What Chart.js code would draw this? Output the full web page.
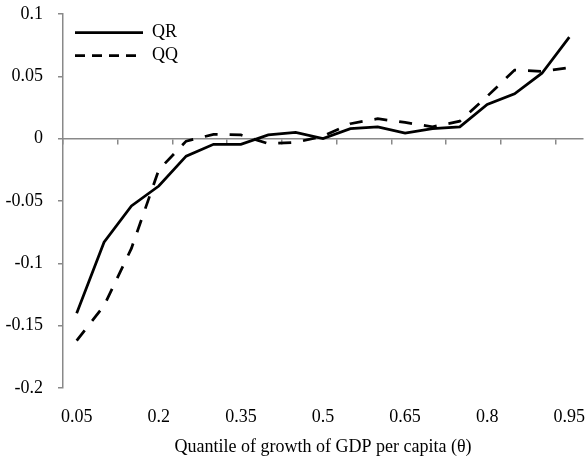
<!DOCTYPE html>
<html>
<head>
<meta charset="utf-8">
<script src="https://cdn.jsdelivr.net/npm/chart.js@4.4.1/dist/chart.umd.min.js"></script>
<style>
  body { margin: 0; background: #fff; }
</style>
</head>
<body>
<canvas id="quantileChart" width="586" height="464"></canvas>
<script>
// Cuantiles (eje x) y estimaciones de las dos series
const quantiles = ['0.05', '0.1', '0.15', '0.2', '0.25', '0.3', '0.35', '0.4', '0.45', '0.5',
                   '0.55', '0.6', '0.65', '0.7', '0.75', '0.8', '0.85', '0.9', '0.95'];
const qrValues = [-0.140, -0.083, -0.054, -0.038, -0.014, -0.0045, -0.0045, 0.003, 0.005, 0,
                  0.008, 0.0095, 0.0045, 0.008, 0.0095, 0.0275, 0.036, 0.0525, 0.0815];
const qqValues = [-0.162, -0.134, -0.088, -0.025, -0.002, 0.0035, 0.003, -0.004, -0.003, 0.002,
                  0.012, 0.016, 0.013, 0.0095, 0.014, 0.034, 0.055, 0.054, 0.057];
const yTicks = [-0.2, -0.15, -0.1, -0.05, 0, 0.05, 0.1];

const axisGray = '#898989';
const serif = { family: 'Liberation Serif', size: 18 };

// Coloca la leyenda dentro del área del gráfico, arriba a la izquierda
const legendInPlot = {
    id: 'legendInPlot',
    afterLayout(chart) {
        const area = chart.chartArea;
        chart.legend.top = area.top + 4.5;
        chart.legend.left = area.left + 7;
    }
};

const ctx = document.getElementById('quantileChart').getContext('2d');
const quantileChart = new Chart(ctx, {
    type: 'line',
    data: {
        labels: quantiles,
        datasets: [{
            label: 'QR',
            data: qrValues,
            borderColor: '#000',
            borderWidth: 2.75,
            pointRadius: 0,
            fill: false
        }, {
            label: 'QQ',
            data: qqValues,
            borderColor: '#000',
            borderWidth: 2.75,
            borderDash: [13, 12],
            pointRadius: 0,
            fill: false
        }]
    },
    plugins: [legendInPlot],
    options: {
        responsive: false,
        animation: false,
        layout: { padding: { left: 6, right: 3, top: 14, bottom: 6 } },
        plugins: {
            tooltip: { enabled: false },
            legend: {
                position: 'chartArea',
                align: 'start',
                labels: {
                    usePointStyle: true,
                    pointStyle: 'line',
                    pointStyleWidth: 68,
                    padding: 5,
                    color: '#000',
                    font: serif,
                    generateLabels: function(chart) {
                        // Guiones del recuadro de leyenda algo más cortos que en la curva
                        return Chart.defaults.plugins.legend.labels.generateLabels(chart).map(item => {
                            item.lineWidth = 2.75;
                            item.pointStyle = 'line';
                            if (item.datasetIndex === 1) item.lineDash = [10, 7];
                            return item;
                        });
                    }
                }
            }
        },
        scales: {
            x: {
                type: 'category',
                offset: true,
                border: { display: false },
                grid: { display: false, drawTicks: false },
                ticks: {
                    autoSkip: false,
                    maxRotation: 0,
                    padding: 18,
                    color: '#000',
                    font: serif,
                    // Solo se rotula cada tercer cuantil
                    callback: function(value, index) {
                        return index % 3 === 0 ? quantiles[index] : '';
                    }
                },
                title: {
                    display: true,
                    text: 'Quantile of growth of GDP per capita (θ)',
                    color: '#000',
                    font: serif,
                    padding: 0
                },
                afterFit: (scale) => {
                    scale.height = 70;
                    scale.paddingLeft = 0;
                    scale.paddingRight = 0;
                }
            },
            // Eje horizontal dibujado en y = 0 con marcas cada dos cuantiles
            xZero: {
                type: 'category',
                labels: quantiles,
                offset: true,
                position: { y: 0 },
                border: { color: axisGray, width: 1.5 },
                grid: {
                    offset: true,
                    drawOnChartArea: false,
                    tickLength: 5,
                    lineWidth: 1.5,
                    color: (c) => (c.index % 2 === 0 ? axisGray : 'rgba(0,0,0,0)')
                },
                ticks: { display: false }
            },
            y: {
                min: -0.2,
                max: 0.1,
                afterBuildTicks: (scale) => {
                    scale.ticks = yTicks.map(v => ({ value: v }));
                },
                afterFit: (scale) => {
                    scale.width = 57;
                    scale.paddingTop = 0;
                    scale.paddingBottom = 0;
                },
                border: { color: axisGray, width: 1.5 },
                grid: {
                    drawOnChartArea: false,
                    tickLength: 5,
                    lineWidth: 1.5,
                    color: axisGray
                },
                ticks: {
                    padding: 15,
                    color: '#000',
                    font: serif,
                    callback: (value) => String(+Number(value).toFixed(2))
                }
            }
        }
    }
});
</script>
</body>
</html>
